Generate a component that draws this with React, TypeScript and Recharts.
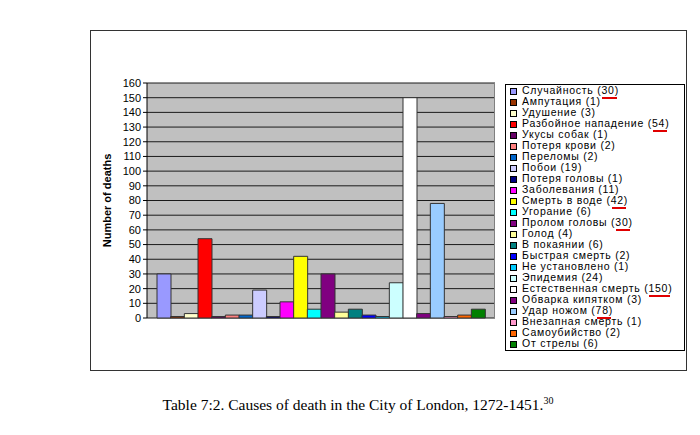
import React from "react";
import { BarChart, Bar, XAxis, YAxis, CartesianGrid, Cell, Label } from "recharts";

const causes = [
  "Случайность (30)",
  "Ампутация (1)",
  "Удушение (3)",
  "Разбойное нападение (54)",
  "Укусы собак (1)",
  "Потеря крови (2)",
  "Переломы (2)",
  "Побои (19)",
  "Потеря головы (1)",
  "Заболевания (11)",
  "Смерть в воде (42)",
  "Угорание (6)",
  "Пролом головы (30)",
  "Голод (4)",
  "В покаянии (6)",
  "Быстрая смерть (2)",
  "Не установлено (1)",
  "Эпидемия (24)",
  "Естественная смерть (150)",
  "Обварка кипятком (3)",
  "Удар ножом (78)",
  "Внезапная смерть (1)",
  "Самоубийство (2)",
  "От стрелы (6)",
];

const deaths = [30, 1, 3, 54, 1, 2, 2, 19, 1, 11, 42, 6, 30, 4, 6, 2, 1, 24, 150, 3, 78, 1, 2, 6];

const colors = [
  "#9999FF", "#993300", "#FFFFCC", "#FF0000", "#660066", "#FF8080",
  "#0066CC", "#CCCCFF", "#000080", "#FF00FF", "#FFFF00", "#00FFFF",
  "#800080", "#FFFF99", "#008080", "#0000FF", "#00CCFF", "#CCFFFF",
  "#FFFFFF", "#800080", "#99CCFF", "#FF99CC", "#FF6600", "#008000",
];

// cause labels whose number is underlined in red in the reference
const underlined = [0, 3, 10, 12, 18, 20];

const yTicks = [0, 10, 20, 30, 40, 50, 60, 70, 80, 90, 100, 110, 120, 130, 140, 150, 160];

const data = causes.map((c, i) => ({ cause: c, deaths: deaths[i], color: colors[i] }));

const LegendBox = () => (
  <div
    style={{
      position: "absolute",
      left: 505,
      top: 84,
      border: "1px solid #000",
      background: "#fff",
      width: 180,
      height: 267,
      boxSizing: "border-box",
      fontFamily: "Arial, 'Liberation Sans', sans-serif",
      fontSize: 10.5,
      letterSpacing: 0.75,
      color: "#000",
    }}
  >
    <div style={{ position: "absolute", left: 0, top: -0.5 }}>
      {causes.map((c, i) => {
        const m = c.match(/^(.*\()(\d+)(\))$/);
        return (
          <div key={c} style={{ height: 11.0, lineHeight: "11px", position: "relative", whiteSpace: "nowrap" }}>
            <span
              style={{
                position: "absolute",
                left: 4,
                top: 3,
                width: 5,
                height: 5,
                background: colors[i],
                border: "1px solid #000",
              }}
            />
            <span style={{ position: "absolute", left: 16, top: 0 }}>
              {m ? m[1] : c}
              {m ? (
                <span style={{ position: "relative" }}>
                  {m[2]}
                  {underlined.includes(i) ? (
                    <span
                      style={{
                        position: "absolute",
                        left: 1,
                        right: -2,
                        bottom: -3,
                        height: 2,
                        background: "#E00000",
                      }}
                    />
                  ) : null}
                </span>
              ) : null}
              {m ? m[3] : null}
            </span>
          </div>
        );
      })}
    </div>
  </div>
);

export default function App() {
  return (
    <div style={{ position: "absolute", left: 0, top: 0, width: 700, height: 435, background: "#fff" }}>
      <div
        style={{
          position: "absolute",
          left: 90,
          top: 30,
          width: 597,
          height: 341,
          border: "1px solid #333",
          boxSizing: "border-box",
        }}
      />
      <div style={{ position: "absolute", left: 0, top: 0 }}>
        <BarChart
          width={700}
          height={435}
          data={data}
          margin={{ top: 83, right: 205, bottom: 117, left: 107 }}
          barCategoryGap={0}
          barGap={0}
        >
          <CartesianGrid vertical={false} stroke="#1a1a1a" strokeWidth={1} fill="#C0C0C0" />
          <XAxis
            dataKey="cause"
            tick={false}
            tickLine={false}
            height={0}
            axisLine={{ stroke: "#000" }}
            padding={{ left: 10, right: 10 }}
          >
            <Label
              value="Причина смерти"
              position="insideBottom"
              offset={-26}
              style={{
                fontFamily: "Arial, 'Liberation Sans', sans-serif",
                fontSize: 11,
                fontWeight: "bold",
                letterSpacing: 0.9,
                fill: "#000",
              }}
            />
          </XAxis>
          <YAxis
            width={40}
            domain={[0, 160]}
            ticks={yTicks}
            interval={0}
            axisLine={{ stroke: "#000" }}
            tickLine={{ stroke: "#000" }}
            tickSize={4}
            tick={{ fontFamily: "Arial, 'Liberation Sans', sans-serif", fontSize: 11, fill: "#000" }}
          >
            <Label
              value="Number of deaths"
              angle={-90}
              position="insideLeft"
              offset={0}
              style={{
                fontFamily: "Arial, 'Liberation Sans', sans-serif",
                fontSize: 11,
                fontWeight: "bold",
                fill: "#000",
                textAnchor: "middle",
              }}
            />
          </YAxis>
          <Bar dataKey="deaths" isAnimationActive={false} stroke="#333" strokeWidth={1}>
            {data.map((d) => (
              <Cell key={d.cause} fill={d.color} />
            ))}
          </Bar>
        </BarChart>
      </div>
      <div style={{ position: "absolute", left: 494, top: 83, width: 1, height: 235, background: "#808080" }} />
      <LegendBox />
      <div
        style={{
          position: "absolute",
          left: 8,
          top: 395,
          width: 700,
          textAlign: "center",
          fontFamily: "'Liberation Serif', 'Times New Roman', serif",
          fontSize: 15.5,
          color: "#000",
        }}
      >
        Table 7:2. Causes of death in the City of London, 1272-1451.
        <sup style={{ fontSize: 10 }}>30</sup>
      </div>
    </div>
  );
}
